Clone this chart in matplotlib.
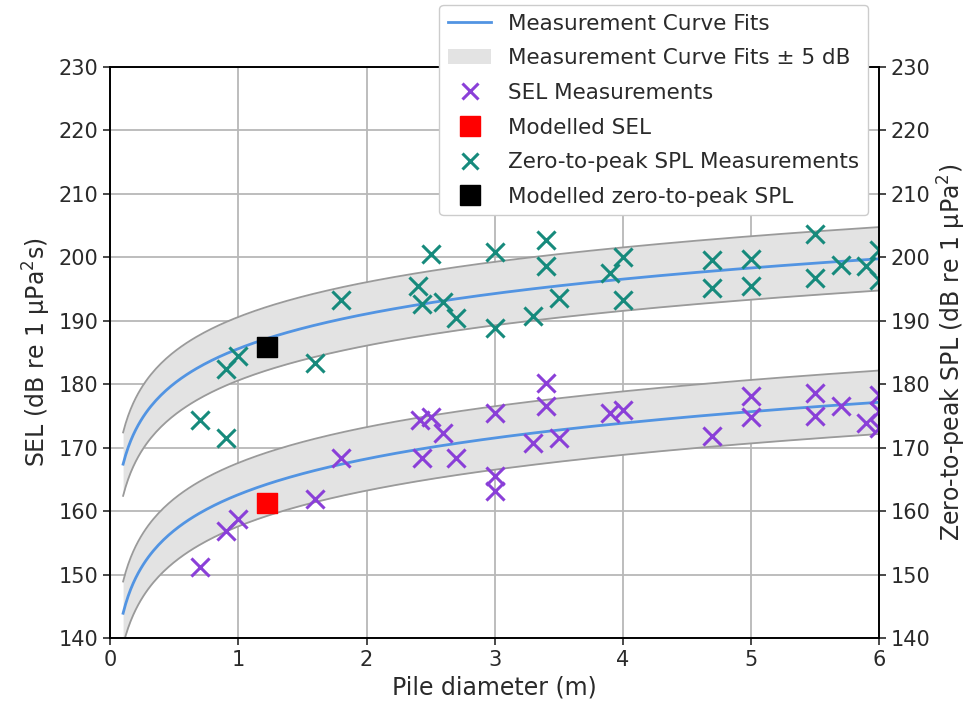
import numpy as np
import matplotlib
matplotlib.use('Agg')
import matplotlib.pyplot as plt
from matplotlib.lines import Line2D
from matplotlib.patches import Patch

# measured SEL (purple crosses)
sel_d = [0.7, 0.9, 1.0, 1.6, 1.8, 2.42, 2.5, 2.6, 2.43, 2.7, 3.0, 3.0, 3.0, 3.3, 3.4, 3.4, 3.5,
         3.9, 4.0, 4.7, 5.0, 5.0, 5.5, 5.5, 5.7, 5.9, 6.0, 6.0, 6.0]
sel_db = [151.2, 156.8, 158.7, 161.9, 168.3, 174.4, 174.8, 172.3, 168.3, 168.3, 175.5, 165.6, 163.1,
          170.8, 180.2, 176.6, 171.5, 175.4, 176.0, 171.9, 178.1, 174.8, 178.6, 175.0, 176.5,
          173.9, 178.3, 175.7, 173.1]

# measured zero-to-peak SPL (teal crosses)
spl_d = [0.7, 0.9, 0.9, 1.0, 1.6, 1.8, 2.4, 2.43, 2.5, 2.6, 2.7, 3.0, 3.0, 3.3, 3.4, 3.4, 3.5,
         3.9, 4.0, 4.0, 4.7, 4.7, 5.0, 5.0, 5.5, 5.5, 5.7, 5.9, 6.0, 6.0]
spl_db = [174.4, 171.5, 182.4, 184.4, 183.3, 193.3, 195.4, 192.7, 200.5, 193.0, 190.5, 200.8, 188.8,
          190.7, 202.8, 198.7, 193.6, 197.5, 200.0, 193.3, 199.5, 195.2, 199.7, 195.4, 203.7,
          196.7, 198.8, 198.6, 201.2, 196.5]

# modelled values
model_d = 1.22
model_sel = 161.2
model_spl = 185.9

# curve fits: level = a + b*log10(D)
sel_fit = (162.6, 18.7)
spl_fit = (185.6, 18.2)
band = 5

d = np.linspace(0.1, 6, 300)
sel_curve = sel_fit[0] + sel_fit[1] * np.log10(d)
spl_curve = spl_fit[0] + spl_fit[1] * np.log10(d)

txt = '#2a2a2a'
plt.rcParams['font.size'] = 15
plt.rcParams['text.color'] = txt
plt.rcParams['axes.labelcolor'] = txt
plt.rcParams['xtick.color'] = txt
plt.rcParams['ytick.color'] = txt
plt.rcParams['axes.linewidth'] = 1.2
plt.rcParams['xtick.major.width'] = 1.2
plt.rcParams['ytick.major.width'] = 1.2
plt.rcParams['xtick.major.size'] = 5
plt.rcParams['ytick.major.size'] = 5

fig = plt.figure(figsize=(9.76, 7.11), dpi=100)
ax = fig.add_axes([0.113, 0.1027, 0.7876, 0.8031])

fit_col = '#5294e2'
for curve in (sel_curve, spl_curve):
    ax.fill_between(d, curve - band, curve + band, color='#e3e3e3', lw=0, zorder=1)
    ax.plot(d, curve - band, color='#9a9a9a', lw=1.3, zorder=2)
    ax.plot(d, curve + band, color='#9a9a9a', lw=1.3, zorder=2)
ax.plot(d, sel_curve, color=fit_col, lw=2, zorder=3)
ax.plot(d, spl_curve, color=fit_col, lw=2, zorder=3)

purple = '#8a3fd8'
teal = '#168a7c'
ax.scatter(sel_d, sel_db, marker='x', s=170, color=purple, linewidths=2.2, zorder=4)
ax.scatter([model_d], [model_sel], marker='s', s=190, color='red', zorder=5)
ax.scatter(spl_d, spl_db, marker='x', s=170, color=teal, linewidths=2.2, zorder=4)
ax.scatter([model_d], [model_spl], marker='s', s=190, color='black', zorder=5)

ax.set_xlim(0, 6)
ax.set_ylim(140, 230)
ax.set_xticks(range(0, 7))
ax.set_yticks(range(140, 231, 10))
ax.grid(True, color='#b8b8b8', lw=1.3)
ax.set_axisbelow(True)
ax.set_xlabel('Pile diameter (m)', fontsize=17)
ax.set_ylabel('SEL (dB re 1 μPa$^2$s)', fontsize=17)

ax2 = ax.twinx()
ax2.set_ylim(140, 230)
ax2.set_yticks(range(140, 231, 10))
ax2.set_ylabel('Zero-to-peak SPL (dB re 1 μPa$^2$)', fontsize=17)

handles = [
    Line2D([], [], color=fit_col, lw=2),
    Patch(facecolor='#e3e3e3', edgecolor='none'),
    Line2D([], [], ls='none', marker='x', color=purple, ms=12, mew=2.2),
    Line2D([], [], ls='none', marker='s', color='red', ms=14),
    Line2D([], [], ls='none', marker='x', color=teal, ms=12, mew=2.2),
    Line2D([], [], ls='none', marker='s', color='black', ms=14),
]
labels = ['Measurement Curve Fits', 'Measurement Curve Fits ± 5 dB', 'SEL Measurements',
          'Modelled SEL', 'Zero-to-peak SPL Measurements', 'Modelled zero-to-peak SPL']
ax2.legend(handles, labels, loc='upper right', bbox_to_anchor=(868 / 976, 1 - 5 / 711),
           bbox_transform=fig.transFigure, borderaxespad=0, fontsize=15.5, framealpha=1.0,
           labelspacing=0.68, borderpad=0.4)

fig.savefig('out.png', dpi=100)
